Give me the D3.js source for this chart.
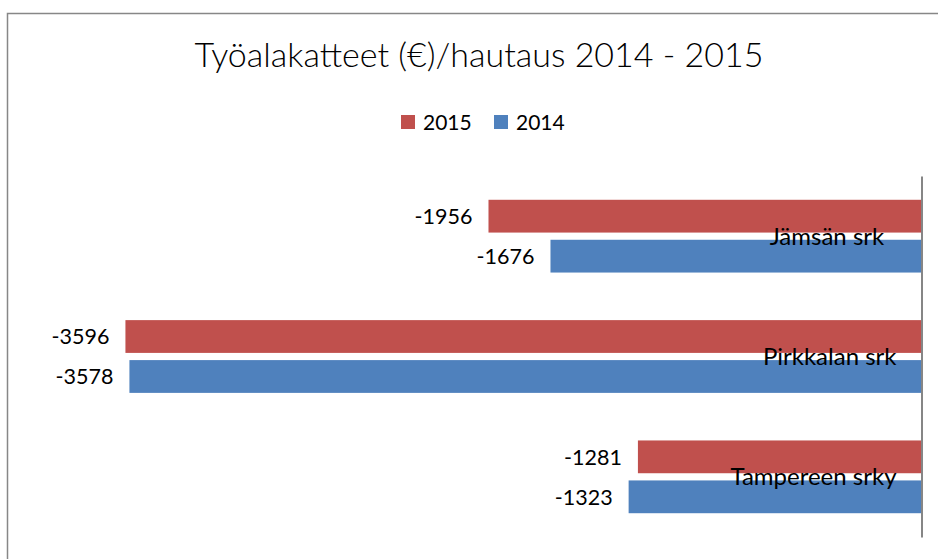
<!DOCTYPE html>
<html>
<head>
<meta charset="utf-8">
<script src="https://cdn.jsdelivr.net/npm/d3@7"></script>
<style>
  body { margin: 0; background: #fff; }
  svg text { font-family: Lato, "Open Sans", sans-serif; fill: #000; }
</style>
</head>
<body>
<div id="chart"></div>
<script>
// data
var categories = ['Jämsän srk  ', 'Pirkkalan srk', 'Tampereen srky'];
var seriesNames = ['2015', '2014'];
var values2015 = [-1956, -3596, -1281];
var values2014 = [-1676, -3578, -1323];
var xTicks = [-4000, 0];

var colors = { '2015': '#C0504D', '2014': '#4F81BD' };

let width = 938;
let height = 559;
let axisX = 921.5;
let plotLeft = 36;
let plotTop = 176;
let plotBottom = 537;

var rows = categories.map((c, i) => ({
  name: c,
  '2015': values2015[i],
  '2014': values2014[i]
}));

var svg = d3.select('#chart').append('svg')
    .attr('width', width)
    .attr('height', height);

// chart border (cut off at the right/bottom like the original)
svg.append('rect')
    .attr('x', 7.5).attr('y', 13.5)
    .attr('width', 960).attr('height', 580)
    .attr('fill', '#fff')
    .attr('stroke', '#878787')
    .attr('stroke-width', 1.5);

let xScale = d3.scaleLinear()
    .domain(d3.extent(xTicks))
    .range([plotLeft, axisX]);

let yScale = d3.scaleBand()
    .domain(categories)
    .range([plotTop, plotBottom])
    .padding(0);

let inner = d3.scaleBand()
    .domain(seriesNames)
    .range([0, yScale.bandwidth()])
    .paddingInner(0.18)
    .paddingOuter(0.595);

// title
svg.append('text')
    .attr('x', 479)
    .attr('y', 67)
    .attr('text-anchor', 'middle')
    .style('font-size', '34px')
    .style('font-weight', 300)
    .text('Työalakatteet (€)/hautaus 2014 - 2015');

// legend
var legend = svg.append('g').attr('transform', 'translate(401,115)');
var legendX = [0, 93];
seriesNames.forEach((s, i) => {
  var g = legend.append('g').attr('transform', 'translate(' + legendX[i] + ',0)');
  g.append('rect')
      .attr('width', 14).attr('height', 14)
      .attr('fill', colors[s]);
  g.append('text')
      .attr('x', 22).attr('y', 15)
      .style('font-size', '21px')
      .text(s);
});

// bars
var groups = svg.selectAll('.cat')
    .data(rows)
    .enter()
    .append('g')
    .attr('class', 'cat')
    .attr('transform', d => 'translate(0,' + yScale(d.name) + ')');

seriesNames.forEach(s => {
  groups.append('rect')
      .attr('class', 'bar')
      .attr('x', d => xScale(d[s]))
      .attr('y', inner(s))
      .attr('width', d => xScale(0) - xScale(d[s]))
      .attr('height', inner.bandwidth())
      .attr('fill', colors[s]);

  groups.append('text')
      .attr('x', d => xScale(d[s]) - 16)
      .attr('y', inner(s) + inner.bandwidth() / 2)
      .attr('dy', '0.36em')
      .attr('text-anchor', 'end')
      .style('font-size', '21.5px')
      .text(d => d[s]);
});

// category labels, sitting between the two bars
groups.append('text')
    .attr('x', axisX - 25)
    .attr('y', yScale.bandwidth() / 2)
    .attr('dy', '0.36em')
    .attr('text-anchor', 'end')
    .style('font-size', '24px')
    .style('white-space', 'pre')
    .attr('xml:space', 'preserve')
    .text(d => d.name);

// vertical category axis
var yAxis = d3.axisRight(yScale).tickSize(0).tickFormat('');
svg.append('g')
    .attr('transform', 'translate(' + axisX + ',0)')
    .call(yAxis)
    .call(g => g.select('.domain').attr('stroke', '#868686').attr('stroke-width', 2));
</script>
</body>
</html>
